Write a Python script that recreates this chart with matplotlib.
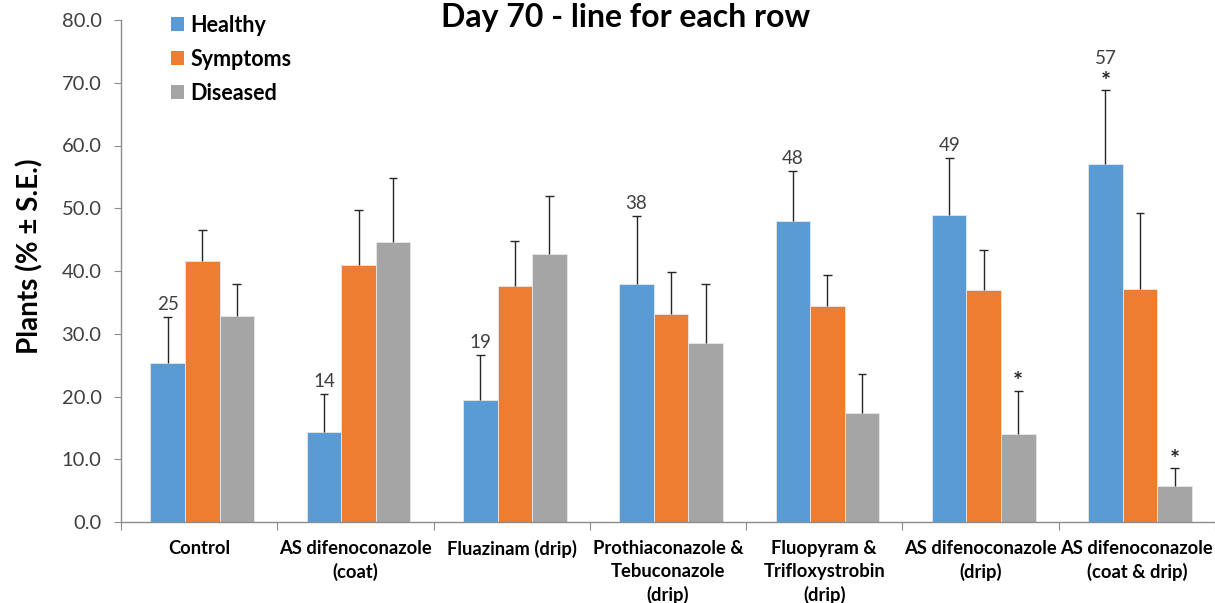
import matplotlib.pyplot as plt
import numpy as np

plt.rcParams['font.family'] = ['Lato', 'DejaVu Sans']

# Treatments (x categories)
treatments = [
    'Control',
    'AS difenoconazole\n(coat)',
    'Fluazinam (drip)',
    'Prothiaconazole &\nTebuconazole\n(drip)',
    'Fluopyram &\nTrifloxystrobin\n(drip)',
    'AS difenoconazole\n(drip)',
    'AS difenoconazole\n(coat & drip)',
]

# Mean % of plants per class and standard errors
healthy = [25.3, 14.3, 19.4, 37.9, 47.9, 48.9, 57.0]
healthy_se = [7.4, 6.1, 7.2, 10.8, 8.0, 9.1, 11.8]
symptoms = [41.6, 40.9, 37.6, 33.1, 34.5, 36.9, 37.1]
symptoms_se = [5.0, 8.8, 7.2, 6.7, 4.8, 6.4, 12.1]
diseased = [32.9, 44.7, 42.7, 28.6, 17.3, 14.0, 5.7]
diseased_se = [5.0, 10.2, 9.2, 9.4, 6.3, 6.9, 2.9]

# significant differences (series, treatment index)
significant = [('healthy', 6), ('diseased', 5), ('diseased', 6)]

colors = {'healthy': '#5B9BD5', 'symptoms': '#ED7D31', 'diseased': '#A5A5A5'}

fig = plt.figure(figsize=(12.15, 6.03), dpi=100)
ax = fig.add_axes([121 / 1215, 81 / 603, 1094 / 1215, 502 / 603])

x = np.arange(len(treatments))
width = 0.221
cap = 0.028
series = [
    ('healthy', 'Healthy', healthy, healthy_se),
    ('symptoms', 'Symptoms', symptoms, symptoms_se),
    ('diseased', 'Diseased', diseased, diseased_se),
]

tops = {}
for i, (key, label, vals, se) in enumerate(series):
    pos = x + (i - 1) * width + 0.02
    vals = np.array(vals)
    top = vals + np.array(se)
    ax.bar(pos, vals, width, color=colors[key], label=label,
           edgecolor='#e8e8e8', linewidth=0.6, zorder=2)
    # upper-only error bars with a cap
    ax.vlines(pos, vals, top, color='#262626', linewidth=1.0, zorder=3)
    ax.hlines(top, pos - cap, pos + cap, color='#262626', linewidth=1.0,
              zorder=3)
    tops[key] = (pos, top)

# healthy means printed over the error bars
pos_h, top_h = tops['healthy']
for i, v in enumerate(healthy):
    shift = 17 if ('healthy', i) in significant else 3
    ax.annotate(f'{v:.0f}', (pos_h[i], top_h[i]), xytext=(0, shift),
                textcoords='offset points', ha='center', va='bottom',
                fontsize=13.5, color='#404040')

for key, i in significant:
    pos, top = tops[key]
    ax.annotate('*', (pos[i], top[i]), xytext=(0, -2.5),
                textcoords='offset points', ha='center', va='bottom',
                fontsize=17, fontweight='bold', color='#262626')

ax.set_xlim(-0.5, len(treatments) - 0.5)
ax.set_ylim(0, 80)
ax.set_yticks(np.arange(0, 81, 10))
ax.set_yticklabels([f'{t:.1f}' for t in np.arange(0, 81, 10)])
ax.tick_params(axis='y', length=5, width=0.8, color='#8c8c8c',
               labelsize=14.5, labelcolor='#404040', pad=9)

ax.set_xticks(x)
ax.set_xticklabels(treatments, fontsize=13.2, fontweight='bold',
                   linespacing=1.4, va='top')
ax.set_xticks(np.arange(-0.5, len(treatments), 1), minor=True)
ax.tick_params(axis='x', which='major', length=0, pad=13)
ax.tick_params(axis='x', which='minor', length=6, width=0.8, color='#8c8c8c')

for side in ('top', 'right'):
    ax.spines[side].set_visible(False)
for side in ('left', 'bottom'):
    ax.spines[side].set_color('#8c8c8c')
    ax.spines[side].set_linewidth(1.0)

ax.set_ylabel('Plants (% ± S.E.)', fontsize=20, fontweight='bold')
ax.yaxis.set_label_coords(-0.071, 0.53)

fig.text(626 / 1215, 1 - 18 / 603, 'Day 70 - line for each row',
         ha='center', va='center', fontsize=23, fontweight='bold')

leg = ax.legend(loc='upper left', bbox_to_anchor=(160 / 1215, 1 - 4 / 603),
                bbox_transform=fig.transFigure, frameon=False,
                handlelength=0.6, handleheight=0.6, handletextpad=0.3,
                labelspacing=0.6, borderpad=0,
                prop={'size': 15.5, 'weight': 'bold'})
for h in leg.legend_handles:
    h.set_linewidth(0)

fig.savefig('out.png', dpi=100)
